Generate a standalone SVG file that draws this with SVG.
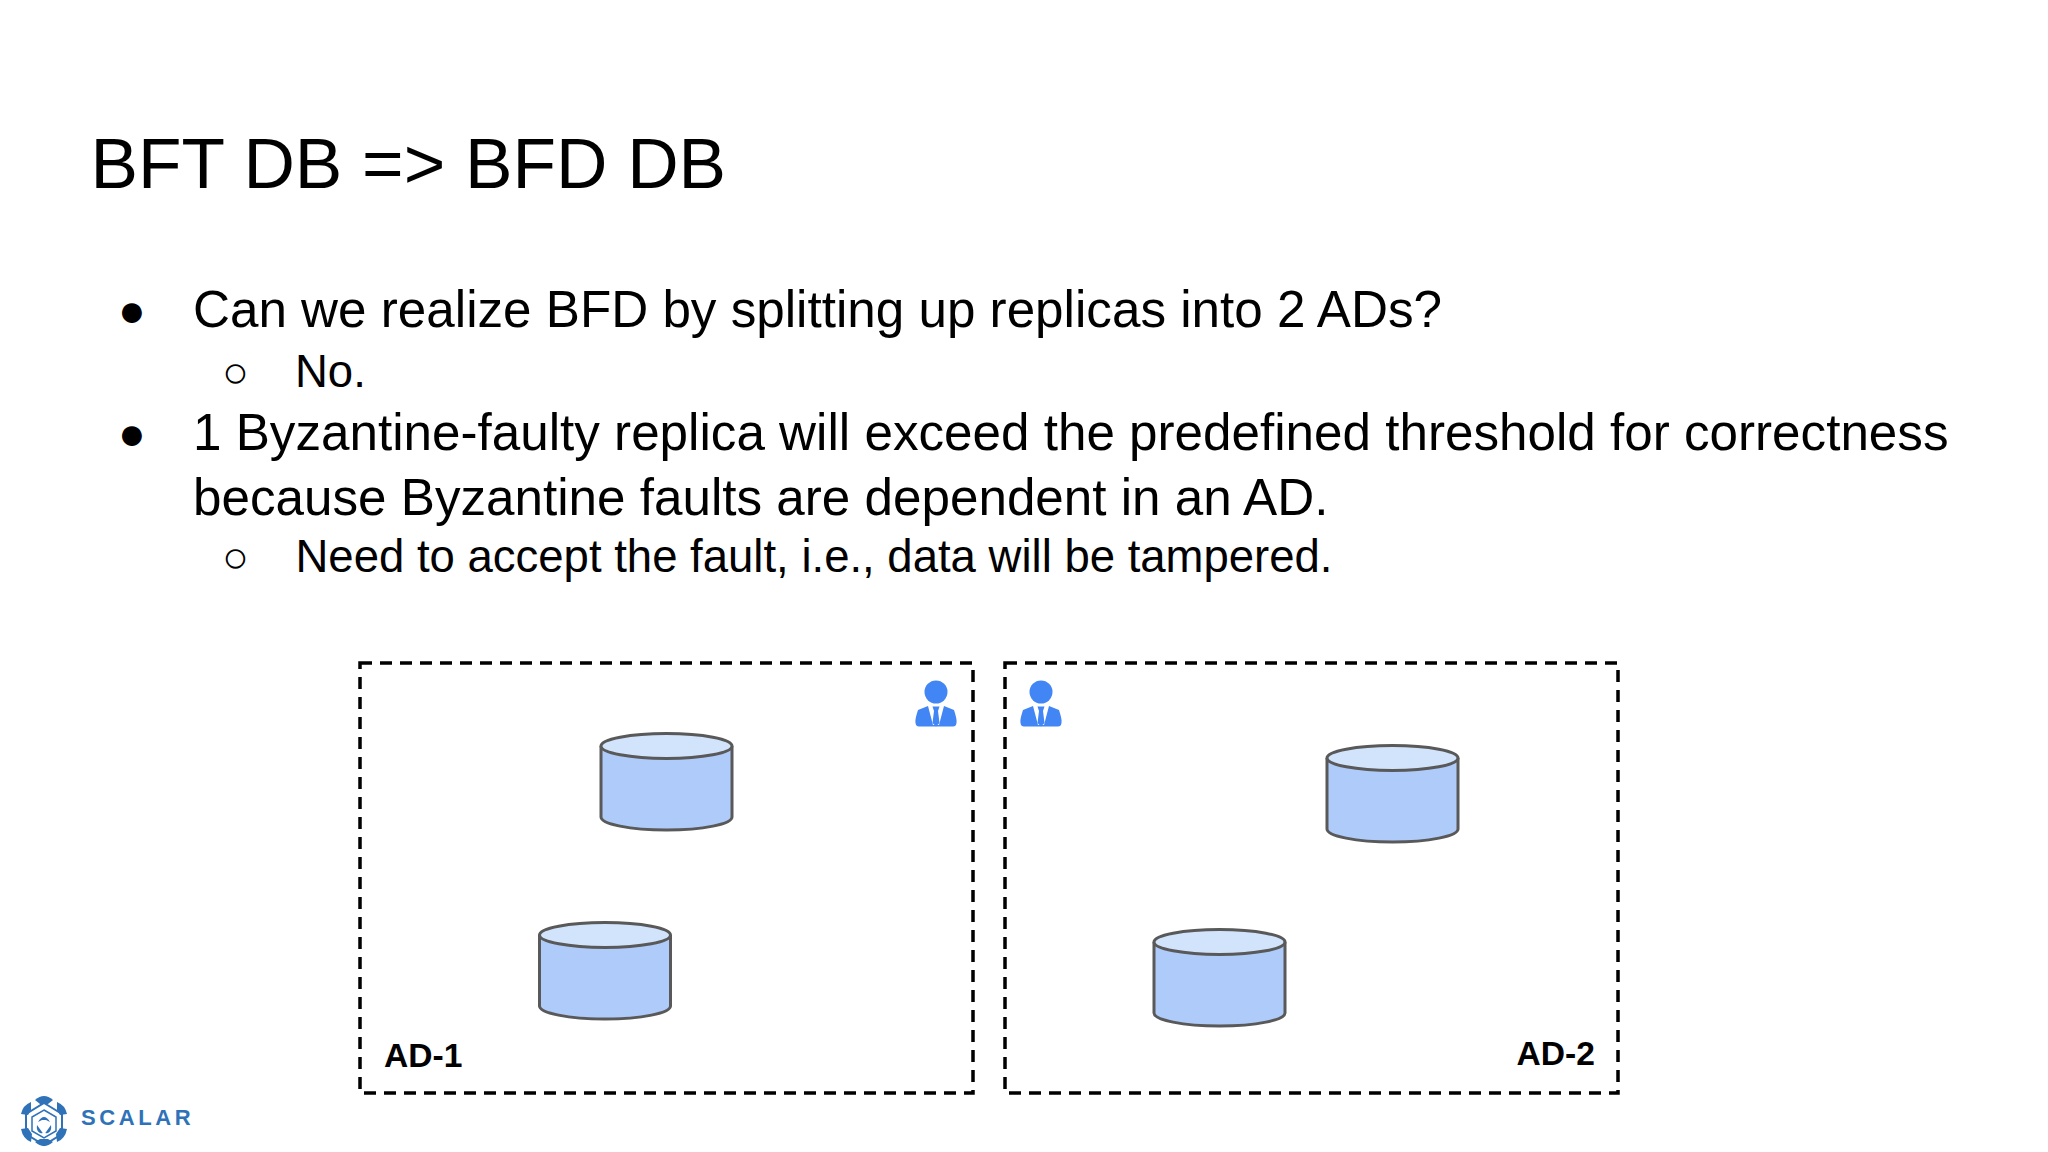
<svg xmlns="http://www.w3.org/2000/svg" width="2048" height="1152" viewBox="0 0 2048 1152">
<style>
text{font-family:"Liberation Sans",Arial,sans-serif;fill:#000}
.t{font-size:71.2px}
.b{font-size:51.2px}
.s{font-size:45.5px}
.bu{font-size:46px}
.su{font-size:44px}
.l{font-size:33.6px;font-weight:bold}
.box{fill:none;stroke:#000;stroke-width:3.5;stroke-dasharray:12 8}
.cb{fill:#aecbfa;stroke:#595959;stroke-width:3}
.ct{fill:#d2e3fc;stroke:#595959;stroke-width:3}
.p{fill:#4285f4}
.lg{fill:#2f72b8}
</style>
<defs>
<g id="cyl">
<path class="cb" d="M0 13V84C0 91 29 97 65.500 97S131 91 131 84V13"/>
<ellipse class="ct" cx="65.500" cy="13" rx="65.500" ry="12.500"/>
</g>
<g id="person">
<circle class="p" cx="0" cy="0" r="11.500"/>
<path class="p" d="M-8 14L-18 18C-20 24-21 28-20.500 31Q-20 34.500-17 34.500H17Q20 34.500 20.500 31C21 28 20 24 18 18L8 14L3 33H-3Z"/>
<path class="p" d="M-3.500 14.500H3.500L2 19L3.500 31L0 34.500L-3.500 31L-2 19Z"/>
</g>
</defs>
<rect width="2048" height="1152" fill="#fff"/>
<text class="t" x="90.500" y="187.500">BFT DB =&gt; BFD DB</text>
<text class="bu" x="118" y="326">●</text>
<text class="b" x="193" y="327">Can we realize BFD by splitting up replicas into 2 ADs?</text>
<text class="su" x="222" y="387">○</text>
<text class="s" x="295" y="387">No.</text>
<text class="bu" x="118" y="449">●</text>
<text class="b" x="193" y="450">1 Byzantine-faulty replica will exceed the predefined threshold for correctness</text>
<text class="b" x="193" y="515">because Byzantine faults are dependent in an AD.</text>
<text class="su" x="222" y="572">○</text>
<text class="s" x="295.500" y="572">Need to accept the fault, i.e., data will be tampered.</text>
<g id="ad1">
<rect class="box" x="360" y="663" width="613" height="430"/>
<text class="l" x="384" y="1067">AD-1</text>
</g>
<g id="ad2">
<rect class="box" x="1005" y="663" width="613" height="430"/>
<text class="l" x="1516.500" y="1065">AD-2</text>
</g>
<g id="db1"><use href="#cyl" x="601" y="733"/></g>
<g id="db2"><use href="#cyl" x="539.500" y="922"/></g>
<g id="db3"><use href="#cyl" x="1327" y="745"/></g>
<g id="db4"><use href="#cyl" x="1154" y="929"/></g>
<g id="user1"><use href="#person" x="936" y="692"/></g>
<g id="user2"><use href="#person" x="1041" y="692"/></g>
<g id="logo">
<g fill="none" stroke="#2f72b8" stroke-width="2">
<path d="M44 1103L62 1114V1134L44 1145L26 1134V1114Z"/>
<path d="M44 1110L56 1117V1131L44 1138L32 1131V1117Z" stroke-width="1.500"/>
</g>
<path class="lg" d="M35 1100Q44 1092 53 1100L48 1104H40Z"/>
<path class="lg" d="M35 1142L40 1139H48L53 1142Q44 1150 35 1142Z"/>
<path class="lg" d="M57 1102Q65 1105 67 1114L60 1115L57 1110Z"/>
<path class="lg" d="M21 1114Q23 1105 31 1102L31 1110L28 1115Z"/>
<path class="lg" d="M60 1128L67 1129Q65 1139 57 1142L56 1134Z"/>
<path class="lg" d="M21 1129L28 1128L32 1134L31 1142Q23 1139 21 1129Z"/>
<path class="lg" d="M38 1122Q44 1112 50 1122L46 1120H42Z"/>
<path class="lg" d="M37 1125L42 1132Q44 1134 40 1133Q36 1131 37 1125Z"/>
<path class="lg" d="M51 1125L46 1132Q44 1134 48 1133Q52 1131 51 1125Z"/>
<text x="81" y="1125" style="fill:#2f72b8;font-family:'Liberation Sans',sans-serif;font-size:22px;font-weight:bold;letter-spacing:3.600px">SCALAR</text>
</g>
</svg>
